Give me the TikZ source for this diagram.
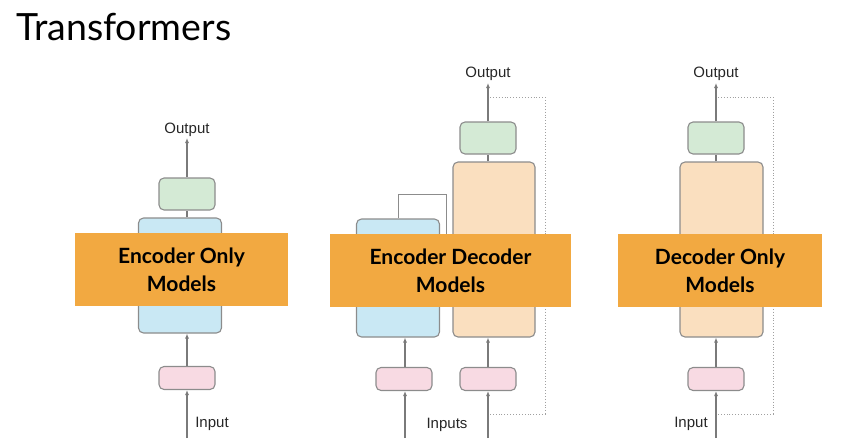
\documentclass[tikz,border=0pt]{standalone}
\usepackage{fontspec}
\setmainfont{Lato}
\newfontfamily\labelfont{Liberation Sans}
\usetikzlibrary{arrows.meta}

\definecolor{bandorange}{HTML}{F2A941}
\definecolor{encblue}{HTML}{C9E8F4}
\definecolor{decpeach}{HTML}{FADFBF}
\definecolor{headgreen}{HTML}{D4EAD5}
\definecolor{embpink}{HTML}{F8DAE3}
\definecolor{edgegray}{HTML}{8C8C8C}
\definecolor{linegray}{HTML}{7A7A7A}
\definecolor{dotgray}{HTML}{A0A0A0}

\begin{document}
\begin{tikzpicture}[x=1pt,y=-1pt,
    block/.style={draw=edgegray,line width=1.1pt,rounded corners=5pt,inner sep=0pt},
    headbox/.style={block,fill=headgreen,minimum width=56pt,minimum height=32pt},
    embbox/.style={block,fill=embpink,minimum width=56pt,minimum height=23pt},
    encbox/.style={block,fill=encblue,minimum width=83pt},
    decbox/.style={block,fill=decpeach,minimum width=82pt,minimum height=175pt},
    band/.style={fill=bandorange,inner sep=0pt,minimum height=73pt,align=center,
      font=\fontsize{21}{28}\selectfont\bfseries},
    lbl/.style={font=\labelfont\fontsize{15}{18}\selectfont,inner sep=0pt,text=black!85},
    flow/.style={draw=linegray,line width=1.2pt,-{Latex[length=5pt,width=4pt]}},
    link/.style={draw=linegray,line width=1.2pt},
    loopback/.style={draw=dotgray,line width=0.9pt,dotted}]
  \useasboundingbox (0,0) rectangle (854,442);

  \node[anchor=base west,inner sep=0pt,font=\fontsize{37.5}{40}\selectfont] (title) at (16,40) {Transformers};

  % encoder only
  \begin{scope}
      \node[lbl] (eoOut) at (187,130) {Output};
      \node[headbox] (eoHead) at (187,194) {};
      \node[encbox,minimum height=115pt] (eoEnc) at (180,275.5) {};
      \node[embbox] (eoEmb) at (187,378) {};
      \node[lbl] (eoIn) at (212,424) {Input};
      \coordinate (eoFoot) at (187,438);

      \path[flow] (eoFoot) -- (eoEmb.south);
      \path[flow] (eoEmb.north) -- (eoEmb.north |- eoEnc.south);
      \path[link] (eoEmb.north |- eoEnc.north) -- (eoHead.south);
      \path[flow] (eoHead.north) -- (187,138);
  \end{scope}

  % encoder decoder
  \begin{scope}
      \node[lbl] (edOut) at (488,74) {Output};
      \node[headbox] (edHead) at (488,138) {};
      \node[decbox] (edDec) at (494,249.5) {};
      \node[encbox,minimum height=118pt] (edEnc) at (398,278) {};
      \node[embbox] (edEmbA) at (404,379) {};
      \node[embbox] (edEmbB) at (488,379) {};
      \node[lbl] (edIn) at (447,425) {Inputs};
      \coordinate (edFootA) at (405,438);
      \coordinate (edFootB) at (488,438);
      \coordinate (edCross) at (446,194);
      \coordinate (edTop) at (490,97);
      \coordinate (edBack) at (545,414);

      \path[flow] (edFootA) -- (edFootA |- edEmbA.south);
      \path[flow] (edFootA |- edEmbA.north) -- (edFootA |- edEnc.south);
      \path[flow] (edFootB) -- (edEmbB.south);
      \path[flow] (edEmbB.north) -- (edEmbB.north |- edDec.south);
      \path[link] (edEmbB.north |- edDec.north) -- (edHead.south);
      \path[flow] (edHead.north) -- (488,83);
      \path[link,draw=edgegray,line width=1pt] (edEnc.north) |- (edCross) -- (446,250);
      \path[loopback] (edTop) -| (edBack) -- (edBack -| edTop);
  \end{scope}

  % decoder only
  \begin{scope}
      \node[lbl] (doOut) at (716,74) {Output};
      \node[headbox] (doHead) at (716,138) {};
      \node[decbox,minimum width=83pt] (doDec) at (721.5,249.5) {};
      \node[embbox] (doEmb) at (716,379) {};
      \node[lbl] (doIn) at (691,424) {Input};
      \coordinate (doFoot) at (716,438);
      \coordinate (doTop) at (718,97);
      \coordinate (doBack) at (773,414);

      \path[flow] (doFoot) -- (doEmb.south);
      \path[flow] (doEmb.north) -- (doEmb.north |- doDec.south);
      \path[link] (doEmb.north |- doDec.north) -- (doHead.south);
      \path[flow] (doHead.north) -- (716,83);
      \path[loopback] (doTop) -| (doBack) -- (doBack -| doTop);
  \end{scope}

  % the three labels
  \begin{scope}
      \node[band,minimum width=213pt] (eoBand) at (181.5,269.5) {Encoder Only\\Models};
      \node[band,minimum width=241pt] (edBand) at (450.5,270.5) {Encoder Decoder\\Models};
      \node[band,minimum width=204pt] (doBand) at (720,270.5) {Decoder Only\\Models};
  \end{scope}
\end{tikzpicture}
\end{document}
